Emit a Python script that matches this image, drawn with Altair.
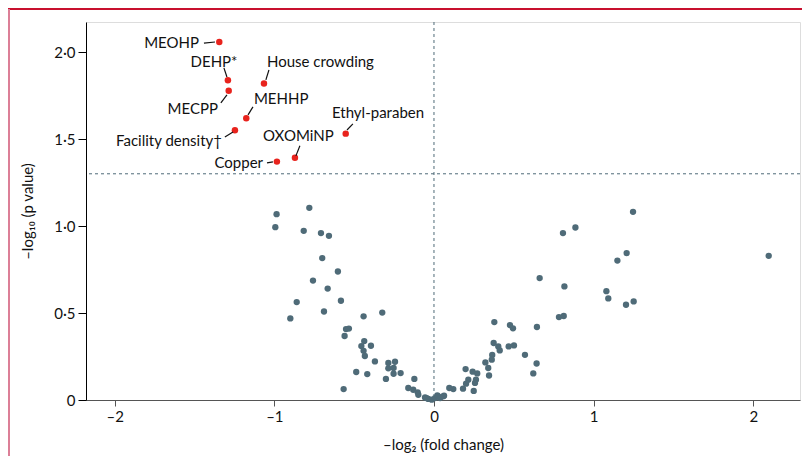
import altair as alt
import pandas as pd

# ---- data ----
grey_x = [-0.986, -0.994, -0.781, -0.816, -0.708, -0.658, -0.700, -0.602, -0.758, -0.666,
          -0.583, -0.860, -0.689, -0.900, -0.441, -0.324, -0.551, -0.533, -0.560, -0.437,
          -0.455, -0.395, -0.441, -0.433, -0.370, -0.286, -0.244, -0.286, -0.253, -0.253,
          -0.209, -0.487, -0.418, -0.301, -0.123, -0.566, -0.161, -0.130, -0.102, -0.098,
          -0.056, -0.036, -0.014, 0.006, 0.021, -0.046, 0.063,
          1.247, 0.886, 0.808, 1.207, 1.149, 2.097, 0.662, 0.817, 1.080, 1.092,
          1.251, 1.203, 0.783, 0.813, 0.378, 0.476, 0.495, 0.645, 0.374, 0.403,
          0.412, 0.468, 0.501, 0.570, 0.643, 0.622, 0.365, 0.362, 0.322, 0.340,
          0.345, 0.198, 0.242, 0.271, 0.263, 0.257, 0.215, 0.201, 0.182, 0.249,
          0.121, 0.096, 0.058, 0.027, 0.038]
grey_y = [1.069, 0.994, 1.105, 0.973, 0.960, 0.944, 0.816, 0.739, 0.687, 0.641,
          0.571, 0.563, 0.509, 0.469, 0.481, 0.503, 0.408, 0.411, 0.368, 0.339,
          0.310, 0.312, 0.283, 0.253, 0.222, 0.213, 0.220, 0.182, 0.184, 0.151,
          0.155, 0.161, 0.149, 0.121, 0.121, 0.063, 0.069, 0.059, 0.044, 0.030,
          0.015, 0.006, 0.002, 0.011, 0.026, 0.011, 0.025,
          1.082, 0.992, 0.960, 0.845, 0.802, 0.829, 0.701, 0.653, 0.626, 0.584,
          0.567, 0.548, 0.477, 0.483, 0.448, 0.431, 0.412, 0.420, 0.328, 0.308,
          0.285, 0.308, 0.314, 0.260, 0.210, 0.153, 0.259, 0.232, 0.216, 0.184,
          0.141, 0.178, 0.163, 0.153, 0.117, 0.098, 0.117, 0.094, 0.065, 0.052,
          0.063, 0.069, 0.021, 0.021, 0.011]

sig_names = ["MEOHP", "DEHP*", "MECPP", "House crowding", "MEHHP",
             "Facility density\u2020", "Ethyl-paraben", "OXOMiNP", "Copper"]
sig_x = [-1.345, -1.291, -1.286, -1.065, -1.176, -1.247, -0.553, -0.871, -0.984]
sig_y = [2.059, 1.839, 1.778, 1.820, 1.621, 1.552, 1.532, 1.393, 1.371]

# label anchors and leader-line starts (data units)
label_x = [-1.472, -1.378, -1.353, -1.046, -1.128, -1.328, -0.639, -1.071, -1.071]
label_y = [2.053, 1.944, 1.674, 1.944, 1.732, 1.490, 1.651, 1.519, 1.364]
label_align = ["right", "center", "right", "left", "left", "right", "left", "left", "right"]
lead_x = [-1.441, -1.316, -1.335, -1.034, -1.134, -1.310, -0.508, -0.840, -1.046]
lead_y = [2.053, 1.910, 1.709, 1.898, 1.686, 1.513, 1.588, 1.462, 1.364]
lead_x2 = [-1.372, -1.297, -1.297, -1.053, -1.165, -1.259, -0.545, -0.865, -1.009]
lead_y2 = [2.059, 1.858, 1.755, 1.841, 1.640, 1.542, 1.553, 1.404, 1.370]

threshold = [1.301]
zero_line = [0]

x_ticks = [-2, -1, 0, 1, 2]
y_ticks = [0, 0.5, 1.0, 1.5, 2.0]

FONT = "Lato"
TXT = "#111111"
GREY = "#4f6b78"
RED = "#e8231d"

grey_df = pd.DataFrame({"x": grey_x, "y": grey_y})
sig_df = pd.DataFrame({"x": sig_x, "y": sig_y, "name": sig_names})
lab_df = pd.DataFrame({"lx": label_x, "ly": label_y, "name": sig_names, "align": label_align})
lead_df = pd.DataFrame({"x": lead_x, "y": lead_y, "x2": lead_x2, "y2": lead_y2})

xs = alt.Scale(domain=[-2.18, 2.293], nice=False, zero=False)
ys = alt.Scale(domain=[0, 2.174], nice=False, zero=False)

x_axis = alt.Axis(values=x_ticks, grid=False, domainColor="#555555", tickColor="#555555",
                  tickSize=6, labelFont=FONT, labelFontSize=15, labelColor=TXT,
                  labelPadding=3,
                  labelExpr="replace(format(datum.value, 'd'), '\u2212', '\u2013')",
                  title="\u2013log\u2082 (fold change)", titleFont=FONT, titleFontSize=15,
                  titleFontWeight="normal", titleColor=TXT,
                  titleX=357, titleY=44, titleBaseline="middle", titleAlign="center")
y_axis = alt.Axis(values=y_ticks, grid=False, domainColor="#000000", tickColor="#000000",
                  tickSize=8, labelFont=FONT, labelFontSize=15, labelColor=TXT,
                  labelPadding=3,
                  labelExpr="datum.value == 0 ? '0' : replace(format(datum.value, '.1f'), '.', '\u00b7')",
                  title="\u2013log\u2081\u2080 (p value)", titleFont=FONT, titleFontSize=15,
                  titleFontWeight="normal", titleColor=TXT,
                  titleX=-59, titleY=189, titleBaseline="middle", titleAlign="center", titleAngle=-90)

base_axes = alt.Chart(grey_df).mark_point(opacity=0).encode(
    x=alt.X("x:Q", scale=xs, axis=x_axis),
    y=alt.Y("y:Q", scale=ys, axis=y_axis),
)

hline = alt.Chart(pd.DataFrame({"y": threshold})).mark_rule(
    color=GREY, strokeDash=[3, 3], strokeWidth=1).encode(y=alt.Y("y:Q", scale=ys))
vline = alt.Chart(pd.DataFrame({"x": zero_line})).mark_rule(
    color=GREY, strokeDash=[3, 3], strokeWidth=1).encode(x=alt.X("x:Q", scale=xs))

grey_pts = alt.Chart(grey_df).mark_circle(color=GREY, size=40, opacity=1).encode(
    x=alt.X("x:Q", scale=xs), y=alt.Y("y:Q", scale=ys))
red_pts = alt.Chart(sig_df).mark_circle(color=RED, size=42, opacity=1).encode(
    x=alt.X("x:Q", scale=xs), y=alt.Y("y:Q", scale=ys))

leads = alt.Chart(lead_df).mark_rule(color="#111111", strokeWidth=1.2).encode(
    x=alt.X("x:Q", scale=xs), y=alt.Y("y:Q", scale=ys), x2="x2:Q", y2="y2:Q")

labels = []
for a in ["left", "right", "center"]:
    labels.append(
        alt.Chart(lab_df).transform_filter(alt.datum.align == a).mark_text(
            align=a, baseline="middle", font=FONT, fontSize=15, color=TXT).encode(
            x=alt.X("lx:Q", scale=xs), y=alt.Y("ly:Q", scale=ys), text="name:N"))

# decorative figure frame (outside the plot area)
frame_top = alt.Chart(grey_df).mark_rule(color="#c8102e", strokeWidth=2).encode(
    x=alt.value(-78), x2=alt.value(716), y=alt.value(-13))
frame_left = alt.Chart(grey_df).mark_rule(color="#dc7f97", strokeWidth=2).encode(
    x=alt.value(-77), y=alt.value(-13), y2=alt.value(434))

chart = alt.layer(base_axes, hline, vline, grey_pts, red_pts, leads, *labels,
                  frame_top, frame_left).properties(
    width=714, height=378,
    autosize=alt.AutoSizeParams(type="none"),
    padding={"left": 78, "top": 14, "right": 2, "bottom": 56},
).configure_view(stroke=None).configure(background="white")

chart.save("out.html", embed_options={"renderer": "svg", "actions": False})
